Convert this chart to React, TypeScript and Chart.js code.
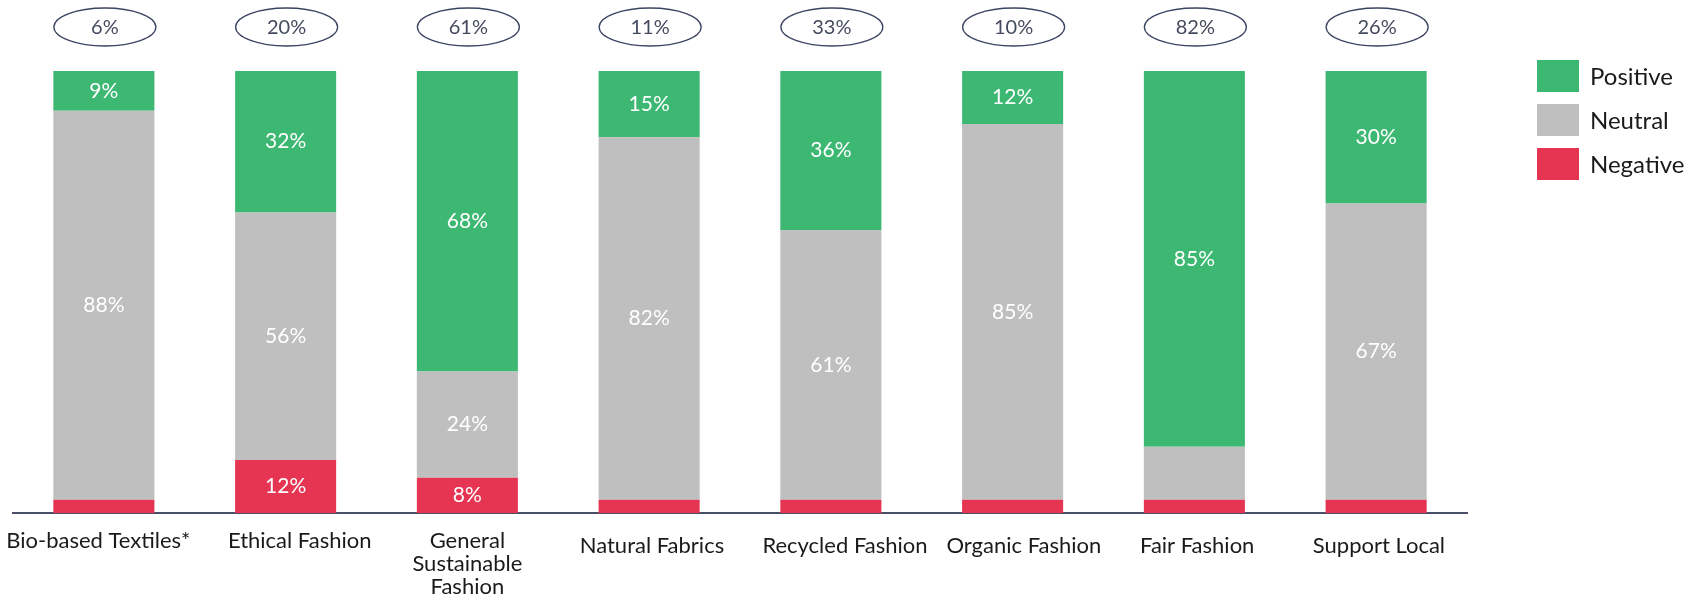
import React, { useEffect, useRef } from "react";
import { Chart, registerables } from "chart.js";

Chart.register(...registerables);

const categories: (string | string[])[] = [
  "Bio-based Textiles*",
  "Ethical Fashion",
  ["General", "Sustainable", "Fashion"],
  "Natural Fabrics",
  "Recycled Fashion",
  "Organic Fashion",
  "Fair Fashion",
  "Support Local",
];
const categoryKeys = [
  "Bio-based Textiles*",
  "Ethical Fashion",
  "General Sustainable Fashion",
  "Natural Fabrics",
  "Recycled Fashion",
  "Organic Fashion",
  "Fair Fashion",
  "Support Local",
];

const positive = [9, 32, 68, 15, 36, 12, 85, 30];
const neutral = [88, 56, 24, 82, 61, 85, 12, 67];
const negative = [3, 12, 8, 3, 3, 3, 3, 3];
const shareOfVoice = [6, 20, 61, 11, 33, 10, 82, 26];

// segments that carry no value label in the reference
const unlabeled: [string, string][] = [["Neutral", "Fair Fashion"]];
const minLabelValue = 5;

// styling: small horizontal nudges of the tick labels (in spaces, + = right) and their line heights
const tickNudge = [-2, 5, 0, 1, 5, 4, 1, 1];
const tickLineHeight = [23, 23, 23, 33, 33, 33, 33, 33];

const GREEN = "#3db873";
const GRAY = "#bfbfbf";
const RED = "#e63453";
const FONT = "Lato, 'Noto Sans', sans-serif";

function nudge(label: string | string[], n: number): string | string[] {
  if (Array.isArray(label) || n === 0) return label;
  const pad = " ".repeat(Math.abs(n));
  return n > 0 ? pad + label : label + pad;
}

export default function App() {
  const ref = useRef<HTMLCanvasElement | null>(null);

  useEffect(() => {
    if (!ref.current) return;

    const valueLabels = {
      id: "valueLabels",
      afterDatasetsDraw(chart: any) {
        const ctx = chart.ctx;
        ctx.save();
        ctx.font = `21px ${FONT}`;
        ctx.fillStyle = "#ffffff";
        ctx.textAlign = "center";
        ctx.textBaseline = "middle";
        chart.data.datasets.forEach((ds: any, di: number) => {
          const meta = chart.getDatasetMeta(di);
          meta.data.forEach((el: any, i: number) => {
            const v = ds.data[i];
            if (v < minLabelValue) return;
            if (unlabeled.some(([d, c]) => d === ds.label && c === categoryKeys[i])) return;
            ctx.fillText(`${v}%`, el.x, (el.y + el.base) / 2);
          });
        });
        ctx.restore();
      },
    };

    const topBubbles = {
      id: "topBubbles",
      afterDraw(chart: any) {
        const ctx = chart.ctx;
        const xs = chart.scales.x;
        ctx.save();
        shareOfVoice.forEach((v, i) => {
          const x = xs.getPixelForValue(i) + 1;
          const y = 27;
          ctx.beginPath();
          ctx.ellipse(x, y, 51, 19, 0, 0, Math.PI * 2);
          ctx.lineWidth = 1.3;
          ctx.strokeStyle = "#3b4462";
          ctx.stroke();
          ctx.font = `20px ${FONT}`;
          ctx.fillStyle = "#444b5f";
          ctx.textAlign = "center";
          ctx.textBaseline = "middle";
          ctx.fillText(`${v}%`, x, y + 1);
        });
        ctx.restore();
      },
    };

    const sideLegend = {
      id: "sideLegend",
      afterDraw(chart: any) {
        const ctx = chart.ctx;
        const items = [...chart.data.datasets].reverse();
        ctx.save();
        items.forEach((ds: any, i: number) => {
          const y = 60 + i * 44;
          ctx.fillStyle = ds.backgroundColor;
          ctx.fillRect(1537, y, 42, 32);
          ctx.font = `24px ${FONT}`;
          ctx.fillStyle = "#1a1a1a";
          ctx.textAlign = "left";
          ctx.textBaseline = "middle";
          ctx.fillText(ds.label, 1590, y + 17);
        });
        ctx.restore();
      },
    };

    const chart = new Chart(ref.current, {
      type: "bar",
      data: {
        labels: categories,
        datasets: [
          { label: "Negative", data: negative, backgroundColor: RED },
          { label: "Neutral", data: neutral, backgroundColor: GRAY },
          { label: "Positive", data: positive, backgroundColor: GREEN },
        ],
      },
      options: {
        responsive: false,
        animation: false,
        devicePixelRatio: 1,
        layout: { padding: { top: 71, left: 13, right: 229, bottom: 0 } },
        datasets: { bar: { categoryPercentage: 1, barPercentage: 0.556, borderWidth: 0 } },
        plugins: { legend: { display: false }, tooltip: { enabled: false } },
        scales: {
          x: {
            stacked: true,
            grid: { display: false, drawTicks: false },
            border: { display: true, color: "#4a5068", width: 2 },
            ticks: {
              color: "#1a1a1a",
              callback: (_v: any, i: number) => nudge(categories[i], tickNudge[i]),
              font: (c: any) => ({
                family: FONT,
                size: 22,
                lineHeight: `${tickLineHeight[c.index] ?? 23}px`,
              }),
              padding: 16,
              maxRotation: 0,
              autoSkip: false,
            },
            afterFit: (scale: any) => {
              scale.height = 84;
              scale.paddingLeft = 0;
              scale.paddingRight = 0;
            },
          },
          y: { stacked: true, display: false, min: 0, max: 100 },
        },
      },
      plugins: [valueLabels, topBubbles, sideLegend],
    });

    return () => chart.destroy();
  }, []);

  return (
    <div style={{ position: "absolute", left: 0, top: 0, width: 1696, height: 597, background: "#fff" }}>
      <canvas ref={ref} width={1696} height={597} />
    </div>
  );
}
